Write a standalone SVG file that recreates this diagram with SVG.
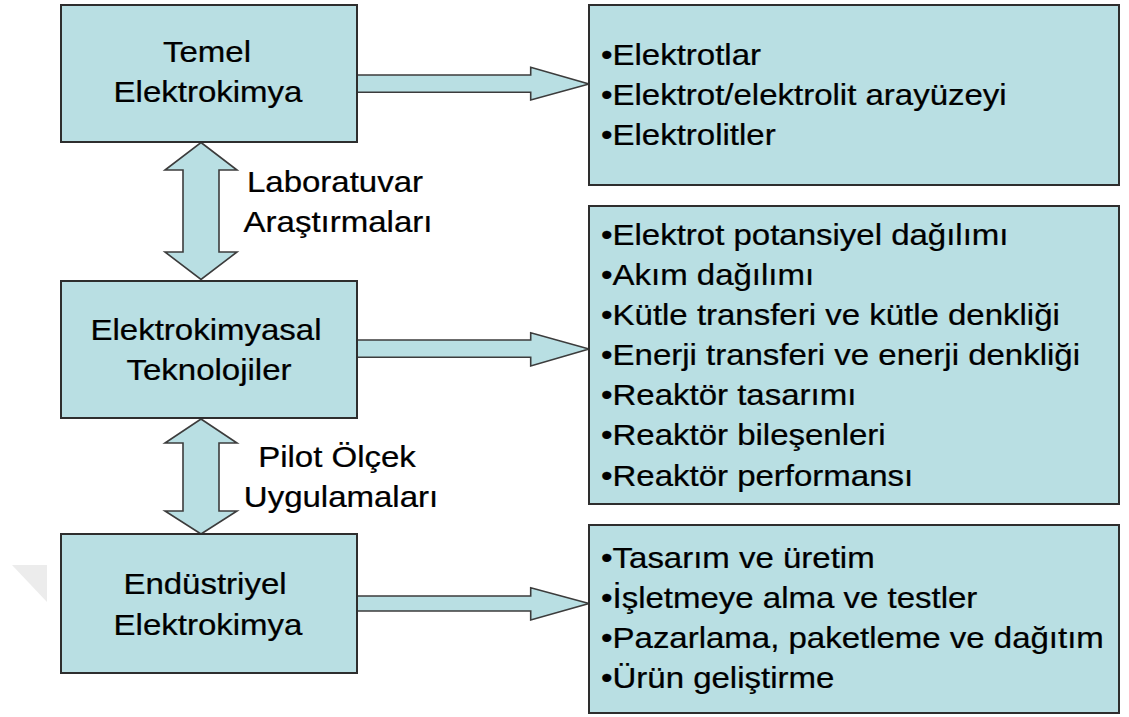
<svg xmlns="http://www.w3.org/2000/svg" width="1129" height="717" viewBox="0 0 1129 717">
<style>
.box{fill:#b9dfe3;stroke:#2e2e2e;stroke-width:2}
.arr{fill:#b9dfe3;stroke:#3c3c3c;stroke-width:1.6;stroke-linejoin:miter}
text{font-family:"Liberation Sans",Arial,sans-serif;font-size:30px;fill:#000;stroke:#000;stroke-width:0.25}
.c{text-anchor:middle}
</style>
<rect width="1129" height="717" fill="#ffffff"/>
<polygon points="12,565 47,565 47,602" fill="#ececec"/>
<g id="connectors">
<path class="arr" d="M357,75 L530.7,75 L530.7,67.3 L589,84 L530.7,100 L530.7,92.3 L357,92.3 Z"/>
<path class="arr" d="M357,340 L530.7,340 L530.7,332.7 L589,349 L530.7,366 L530.7,357.3 L357,357.3 Z"/>
<path class="arr" d="M357,596 L530.7,596 L530.7,587.7 L589,603.5 L530.7,620 L530.7,611 L357,611 Z"/>
<path class="arr" d="M201,142.5 L237,170 L219,170 L219,252 L237,252 L201,279.5 L165,252 L183,252 L183,170 L165,170 Z"/>
<path class="arr" d="M201,419 L237,443 L219,443 L219,511 L237,511 L201,534 L165,511 L183,511 L183,443 L165,443 Z"/>
<text class="c" transform="translate(335,192) scale(1.1,1)">Laboratuvar</text>
<text class="c" transform="translate(338,232) scale(1.1,1)">Araştırmaları</text>
<text class="c" transform="translate(337,467) scale(1.1,1)">Pilot Ölçek</text>
<text class="c" transform="translate(341,507) scale(1.1,1)">Uygulamaları</text>
</g>
<g id="temel">
<rect class="box" x="61" y="5" width="296" height="137"/>
<text class="c" transform="translate(207,62) scale(1.1,1)">Temel</text>
<text class="c" transform="translate(208,102) scale(1.1,1)">Elektrokimya</text>
</g>
<g id="teknolojiler">
<rect class="box" x="61" y="281" width="296" height="137"/>
<text class="c" transform="translate(206,340) scale(1.1,1)">Elektrokimyasal</text>
<text class="c" transform="translate(209,380) scale(1.1,1)">Teknolojiler</text>
</g>
<g id="endustriyel">
<rect class="box" x="61" y="534" width="296" height="139"/>
<text class="c" transform="translate(205,594) scale(1.1,1)">Endüstriyel</text>
<text class="c" transform="translate(208,635) scale(1.1,1)">Elektrokimya</text>
</g>
<g id="temel-konular">
<rect class="box" x="589" y="5" width="530" height="180"/>
<text transform="translate(601,65) scale(1.1,1)">•Elektrotlar</text>
<text transform="translate(601,105) scale(1.1,1)">•Elektrot/elektrolit arayüzeyi</text>
<text transform="translate(601,145) scale(1.1,1)">•Elektrolitler</text>
</g>
<g id="teknoloji-konular">
<rect class="box" x="589" y="206" width="530" height="298"/>
<text transform="translate(601,245) scale(1.1,1)">•Elektrot potansiyel dağılımı</text>
<text transform="translate(601,285) scale(1.1,1)">•Akım dağılımı</text>
<text transform="translate(601,325) scale(1.1,1)">•Kütle transferi ve kütle denkliği</text>
<text transform="translate(601,365) scale(1.1,1)">•Enerji transferi ve enerji denkliği</text>
<text transform="translate(601,405) scale(1.1,1)">•Reaktör tasarımı</text>
<text transform="translate(601,445) scale(1.1,1)">•Reaktör bileşenleri</text>
<text transform="translate(601,486) scale(1.1,1)">•Reaktör performansı</text>
</g>
<g id="endustri-konular">
<rect class="box" x="589" y="525" width="530" height="188"/>
<text transform="translate(601,568) scale(1.1,1)">•Tasarım ve üretim</text>
<text transform="translate(601,608) scale(1.1,1)">•İşletmeye alma ve testler</text>
<text transform="translate(601,648) scale(1.1,1)">•Pazarlama, paketleme ve dağıtım</text>
<text transform="translate(601,688) scale(1.1,1)">•Ürün geliştirme</text>
</g>
</svg>
